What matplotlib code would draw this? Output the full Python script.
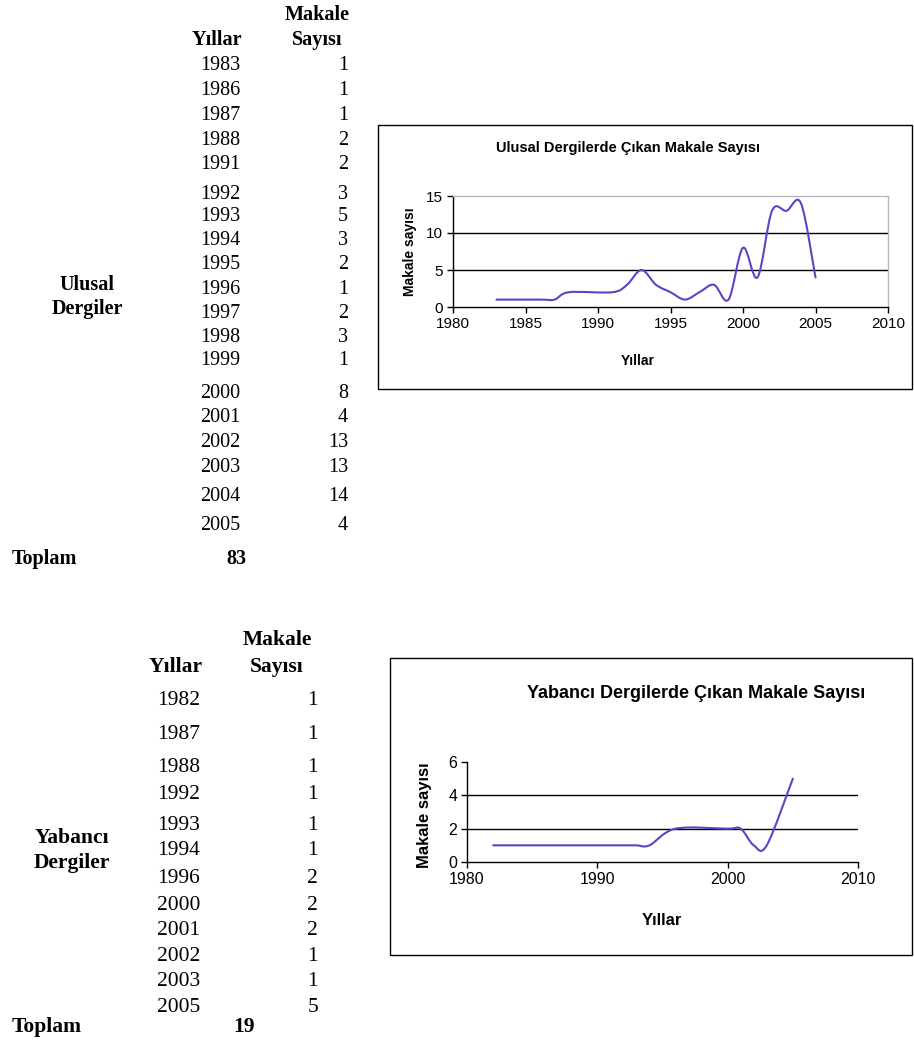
import matplotlib
matplotlib.use("Agg")
import matplotlib.pyplot as plt
from matplotlib.path import Path
from matplotlib.patches import PathPatch, Rectangle

# ---------------- data ----------------
ulusal_years = [1983, 1986, 1987, 1988, 1991, 1992, 1993, 1994, 1995, 1996,
                1997, 1998, 1999, 2000, 2001, 2002, 2003, 2004, 2005]
ulusal_counts = [1, 1, 1, 2, 2, 3, 5, 3, 2, 1, 2, 3, 1, 8, 4, 13, 13, 14, 4]

yabanci_years = [1982, 1987, 1988, 1992, 1993, 1994, 1996, 2000, 2001, 2002, 2003, 2005]
yabanci_counts = [1, 1, 1, 1, 1, 1, 2, 2, 2, 1, 1, 5]

header_years = "Yıllar"
header_count = ["Makale", "Sayısı"]
group_ulusal = ["Ulusal", "Dergiler"]
group_yabanci = ["Yabancı", "Dergiler"]
total_label = "Toplam"

title_ulusal = "Ulusal Dergilerde Çıkan Makale Sayısı"
title_yabanci = "Yabancı Dergilerde Çıkan Makale Sayısı"
ylabel = "Makale sayısı"
xlabel = "Yıllar"

ulusal_xticks = [1980, 1985, 1990, 1995, 2000, 2005, 2010]
ulusal_yticks = [0, 5, 10, 15]
yabanci_xticks = [1980, 1990, 2000, 2010]
yabanci_yticks = [0, 2, 4, 6]

# ---------------- layout (pixels) ----------------
W, H = 914, 1051
LINE_COLOR = "#6241c4"
SERIF = "Liberation Serif"
SANS = "Liberation Sans"

ulusal_row_y = [63, 88, 113, 138, 162, 192, 214, 238, 262, 287,
                311, 335, 358, 391, 415, 440, 465, 494, 523]
yabanci_row_y = [698, 732, 765, 792, 823, 848, 876, 903, 928, 954, 979, 1005]

fig = plt.figure(figsize=(W / 100, H / 100), dpi=100)
fig.patch.set_facecolor("white")


def txt(x, y, s, size, family=SERIF, weight="normal", ha="center", cap=0.66, **kw):
    """place text so that its cap-height centre sits at pixel (x, y)."""
    px = size * 100 / 72.0
    base = y + cap * px / 2.0
    fig.text(x / W, 1 - base / H, s, fontsize=size, family=family,
             weight=weight, ha=ha, va="baseline", **kw)


def table(years, counts, rows, xc_year, xr_val, hdr_x, hdr_y, size, group, group_x,
          group_y, total_y, total_x):
    txt(xc_year - 3, hdr_y[1], header_years, size, weight="bold")
    txt(hdr_x, hdr_y[0], header_count[0], size, weight="bold")
    txt(hdr_x, hdr_y[1], header_count[1], size, weight="bold")
    for yv, c, ry in zip(years, counts, rows):
        txt(xc_year, ry, str(yv), size)
        txt(xr_val, ry, str(c), size, ha="right")
    txt(group_x, group_y[0], group[0], size, weight="bold")
    txt(group_x, group_y[1], group[1], size, weight="bold")
    txt(12, total_y, total_label, size, weight="bold", ha="left")
    txt(total_x, total_y, str(sum(counts)), size, weight="bold")


# top table
table(ulusal_years, ulusal_counts, ulusal_row_y, 220, 348, 317, [13, 38], 14.5,
      group_ulusal, 87, [283, 307], 557, 236)
# bottom table
table(yabanci_years, yabanci_counts, yabanci_row_y, 179, 318, 277, [638, 665], 15.5,
      group_yabanci, 72, [836, 861], 1025, 244)


def smooth_path(xs, ys):
    pts = list(zip(xs, ys))
    n = len(pts)
    verts = [pts[0]]
    codes = [Path.MOVETO]
    for i in range(n - 1):
        p0 = pts[i - 1] if i > 0 else pts[i]
        p1 = pts[i]
        p2 = pts[i + 1]
        p3 = pts[i + 2] if i + 2 < n else pts[i + 1]
        c1 = (p1[0] + (p2[0] - p0[0]) / 6.0, p1[1] + (p2[1] - p0[1]) / 6.0)
        c2 = (p2[0] - (p3[0] - p1[0]) / 6.0, p2[1] - (p3[1] - p1[1]) / 6.0)
        verts += [c1, c2, p2]
        codes += [Path.CURVE4] * 3
    return Path(verts, codes)


def chart(rect_px, box_px, xs, ys, xticks, yticks, title, title_xy, tsize,
          ylab_xy, xlab_xy, lsize, ticksize, frame_gray):
    l, t, r, b = rect_px
    ax = fig.add_axes([l / W, 1 - b / H, (r - l) / W, (b - t) / H])
    ax.set_xlim(xticks[0], xticks[-1])
    ax.set_ylim(yticks[0], yticks[-1])
    ax.set_xticks(xticks)
    ax.set_yticks(yticks)
    ax.set_facecolor("none")
    for v in yticks[1:-1]:
        ax.axhline(v, color="black", lw=1.0, zorder=1)
    ax.add_patch(PathPatch(smooth_path(xs, ys), fill=False, edgecolor=LINE_COLOR,
                           lw=1.5, zorder=3, capstyle="round", joinstyle="round"))
    for s in ("left", "bottom"):
        ax.spines[s].set_color("black")
        ax.spines[s].set_linewidth(1.0)
    for s in ("top", "right"):
        if frame_gray:
            ax.spines[s].set_color("#b8b8b8")
            ax.spines[s].set_linewidth(1.0)
        else:
            ax.spines[s].set_visible(False)
    ax.tick_params(direction="out", length=4, width=1, color="black",
                   labelsize=ticksize, pad=3)
    for lab in ax.get_xticklabels() + ax.get_yticklabels():
        lab.set_family(SANS)
    txt(title_xy[0], title_xy[1], title, tsize, family=SANS, weight="bold", cap=0.72)
    fig.text(ylab_xy[0] / W, 1 - ylab_xy[1] / H, ylabel, rotation=90, fontsize=lsize,
             family=SANS, weight="bold", ha="center", va="center")
    txt(xlab_xy[0], xlab_xy[1], xlabel, lsize, family=SANS, weight="bold", cap=0.72)
    x0, y0, x1, y1 = box_px
    fig.add_artist(Rectangle((x0 / W, 1 - y1 / H), (x1 - x0) / W, (y1 - y0) / H,
                             transform=fig.transFigure, fill=False,
                             edgecolor="black", lw=1.0))
    return ax


chart((453, 196, 888, 307), (378, 125, 912, 389), ulusal_years, ulusal_counts,
      ulusal_xticks, ulusal_yticks, title_ulusal, (628, 147), 10.5,
      (410, 252), (638, 360), 10, 11, True)
chart((467, 762, 858, 862), (390, 658, 912, 955), yabanci_years, yabanci_counts,
      yabanci_xticks, yabanci_yticks, title_yabanci, (696, 692), 13,
      (424, 815), (662, 919), 12, 11.5, False)

fig.savefig("out.png", dpi=100, facecolor="white")
